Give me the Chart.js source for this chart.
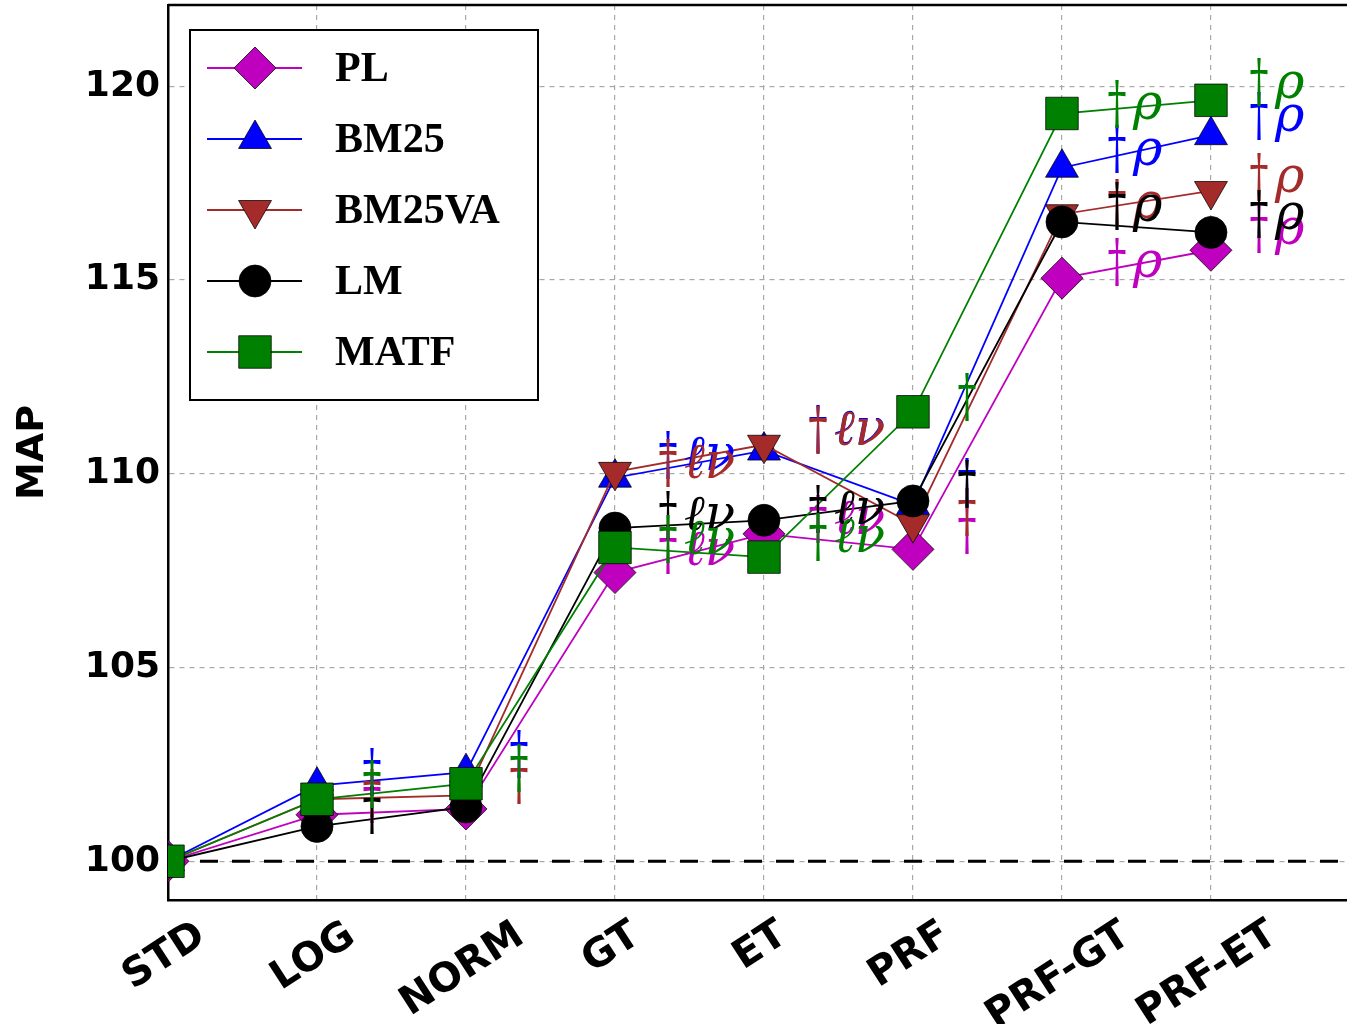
<!DOCTYPE html>
<html>
<head>
<meta charset="utf-8">
<script src="https://cdn.jsdelivr.net/npm/chart.js@4.4.1/dist/chart.umd.min.js"></script>
<style>
  html, body { margin: 0; padding: 0; background: #fff; }
</style>
</head>
<body>
<canvas id="mapChart" width="1347" height="1024"></canvas>
<script>
// categories and ticks
const categories = ["STD", "LOG", "NORM", "GT", "ET", "PRF", "PRF-GT", "PRF-ET"];
const xTicks = [0, 1, 2, 3, 4, 5, 6, 7];
const yTicks = [100, 105, 110, 115, 120];
const baseline = 100;

// MAP per method
const plValues     = [100, 101.2, 101.35, 107.45, 108.45, 108.05, 115.05, 115.77];
const bm25Values   = [100, 101.95, 102.3, 109.9, 110.6, 109.2, 117.9, 118.74];
const bm25vaValues = [100, 101.6, 101.7, 110.05, 110.75, 108.7, 116.7, 117.3];
const lmValues     = [100, 100.9, 101.4, 108.6, 108.8, 109.3, 116.5, 116.23];
const matfValues   = [100, 101.6, 102.0, 108.1, 107.85, 111.6, 119.3, 119.64];

// significance marks: [x position, MAP value, suffix]
const plMarks     = [[1.37, 101.78, ""], [3.356, 108.21, "ℓν"], [4.362, 109.01, "ℓν"], [5.362, 108.72, ""], [6.369, 115.64, "ρ"], [7.322, 116.49, "ρ"]];
const bm25Marks   = [[1.37, 102.48, ""], [2.356, 102.94, ""], [3.356, 110.66, "ℓν"], [4.362, 111.33, "ℓν"], [5.362, 109.96, ""], [6.369, 118.55, "ρ"], [7.322, 119.41, "ρ"]];
const bm25vaMarks = [[1.37, 101.94, ""], [2.356, 102.27, ""], [3.356, 110.45, "ℓν"], [4.362, 111.30, "ℓν"], [5.362, 109.19, ""], [6.369, 117.16, "ρ"], [7.322, 117.83, "ρ"]];
const lmMarks     = [[1.37, 101.50, ""], [3.356, 109.11, "ℓν"], [4.362, 109.26, "ℓν"], [5.362, 109.91, ""], [6.369, 117.08, "ρ"], [7.322, 116.88, "ρ"]];
const matfMarks   = [[1.37, 102.17, ""], [2.356, 102.58, ""], [3.356, 108.49, "ℓν"], [4.362, 108.54, "ℓν"], [5.362, 112.15, ""], [6.369, 119.72, "ρ"], [7.322, 120.28, "ρ"]];

const seriesNames = ["PL", "BM25", "BM25VA", "LM", "MATF"];
const seriesValues = [plValues, bm25Values, bm25vaValues, lmValues, matfValues];
const seriesMarks = [plMarks, bm25Marks, bm25vaMarks, lmMarks, matfMarks];
const seriesColors = ["#bf00bf", "#0000ff", "#a52a2a", "#000000", "#008000"];
const pointStyles = ["rectRot", "triangle", "triangle", "circle", "rect"];
const pointRotations = [0, 0, 180, 0, 0];
const pointSizes = [21, 19, 19, 16, 23];

const datasets = seriesNames.map((name, i) => ({
  label: name,
  data: seriesValues[i].map((v, j) => ({ x: xTicks[j], y: v })),
  borderColor: seriesColors[i],
  backgroundColor: seriesColors[i],
  borderWidth: 1.8,
  pointStyle: pointStyles[i],
  pointRotation: pointRotations[i],
  pointRadius: pointSizes[i],
  pointHoverRadius: pointSizes[i],
  pointBorderColor: "rgba(0,0,0,0.75)",
  pointBorderWidth: 1,
  order: seriesNames.length - i, // last series on top
}));

// dashed reference line at 100
const baselinePlugin = {
  id: "baseline",
  beforeDatasetsDraw(chart) {
    const { ctx, chartArea, scales } = chart;
    const py = scales.y.getPixelForValue(baseline);
    ctx.save();
    ctx.strokeStyle = "#000";
    ctx.lineWidth = 3;
    ctx.setLineDash([18, 14]);
    ctx.lineDashOffset = -32;
    ctx.beginPath();
    ctx.moveTo(chartArea.left, py);
    ctx.lineTo(chartArea.right, py);
    ctx.stroke();
    ctx.restore();
  },
};

// dagger + letter marks next to the lines
const marksPlugin = {
  id: "sigMarks",
  afterDatasetsDraw(chart) {
    const { ctx, scales } = chart;
    ctx.save();
    seriesMarks.forEach((marks, i) => {
      ctx.fillStyle = seriesColors[i];
      marks.forEach(([mx, my, suffix]) => {
        const px = scales.x.getPixelForValue(mx);
        const py = scales.y.getPixelForValue(my);
        // tall thin dagger, crossbar on the value
        ctx.save();
        ctx.translate(px, py);
        ctx.scale(0.95, 1.45);
        ctx.font = '40px "DejaVu Serif"';
        ctx.textAlign = "center";
        ctx.textBaseline = "alphabetic";
        ctx.fillText("\u2020", 0, 17);
        ctx.restore();
        if (suffix) {
          ctx.font = 'italic 50px "DejaVu Serif"';
          ctx.textAlign = "left";
          ctx.textBaseline = "alphabetic";
          ctx.fillText(suffix, px + 16, py + 22);
        }
      });
    });
    ctx.restore();
  },
};

// category labels, rotated and centred under each tick
const xLabelPlugin = {
  id: "xLabels",
  afterDraw(chart) {
    const { ctx, chartArea, scales } = chart;
    const angle = 33 * Math.PI / 180;
    ctx.save();
    ctx.fillStyle = "#000";
    ctx.font = 'bold 40px "DejaVu Sans"';
    ctx.textAlign = "center";
    ctx.textBaseline = "middle";
    categories.forEach((label, j) => {
      const m = ctx.measureText(label);
      const h = m.actualBoundingBoxAscent + m.actualBoundingBoxDescent;
      const boxH = m.width * Math.sin(angle) + h * Math.cos(angle);
      const cx = scales.x.getPixelForValue(xTicks[j]) - 6;
      const cy = chartArea.bottom + 15 + boxH / 2;
      ctx.save();
      ctx.translate(cx, cy);
      ctx.rotate(-angle);
      ctx.fillText(label, 0, (m.actualBoundingBoxAscent - m.actualBoundingBoxDescent) / 2);
      ctx.restore();
    });
    ctx.restore();
  },
};

// frame top + legend box drawn inside the plot
const legendPlugin = {
  id: "boxLegend",
  afterDraw(chart) {
    const { ctx, chartArea } = chart;
    ctx.save();
    ctx.strokeStyle = "#000";
    ctx.lineWidth = 2.5;
    ctx.beginPath();
    ctx.moveTo(chartArea.left, chartArea.top);
    ctx.lineTo(chartArea.right, chartArea.top);
    ctx.stroke();

    const bx = chartArea.left + 22, by = chartArea.top + 25;
    ctx.fillStyle = "#fff";
    ctx.fillRect(bx, by, 348, 370);
    ctx.lineWidth = 2;
    ctx.strokeRect(bx, by, 348, 370);

    seriesNames.forEach((name, i) => {
      const cy = by + 38 + i * 71;
      ctx.strokeStyle = seriesColors[i];
      ctx.lineWidth = 1.8;
      ctx.beginPath();
      ctx.moveTo(bx + 17, cy);
      ctx.lineTo(bx + 112, cy);
      ctx.stroke();
      ctx.fillStyle = seriesColors[i];
      ctx.strokeStyle = "rgba(0,0,0,0.75)";
      ctx.lineWidth = 1;
      Chart.helpers.drawPoint(ctx, {
        pointStyle: pointStyles[i],
        rotation: pointRotations[i],
        radius: pointSizes[i],
        borderWidth: 1,
      }, bx + 65, cy);
      ctx.fillStyle = "#000";
      ctx.font = 'bold 42px "Liberation Serif"';
      ctx.textAlign = "left";
      ctx.textBaseline = "middle";
      ctx.fillText(name, bx + 145, cy + 2);
    });
    ctx.restore();
  },
};

function noPadding(scale) {
  scale.paddingLeft = 0;
  scale.paddingRight = 0;
  scale.paddingTop = 0;
  scale.paddingBottom = 0;
}

const ctx = document.getElementById("mapChart").getContext("2d");
const mapChart = new Chart(ctx, {
  type: "line",
  data: { datasets },
  plugins: [baselinePlugin, marksPlugin, xLabelPlugin, legendPlugin],
  options: {
    responsive: false,
    animation: false,
    layout: { autoPadding: false, padding: { top: 5, right: 0, left: 0, bottom: 0 } },
    plugins: { legend: { display: false }, tooltip: { enabled: false } },
    scales: {
      x: {
        type: "linear",
        min: 0,
        max: 7.913,
        afterBuildTicks: (scale) => { scale.ticks = xTicks.map((v) => ({ value: v })); },
        afterFit: (scale) => { scale.height = 124; noPadding(scale); },
        grid: { color: "#a8a8a8", lineWidth: 1.2, drawTicks: false },
        border: { display: true, color: "#000", width: 2.5, dash: [5, 5] },
        ticks: { display: false },
      },
      y: {
        min: 99,
        max: 122.1,
        afterBuildTicks: (scale) => { scale.ticks = yTicks.map((v) => ({ value: v })); },
        afterFit: (scale) => { scale.width = 168; noPadding(scale); },
        grid: { color: "#a8a8a8", lineWidth: 1.2, drawTicks: false },
        border: { display: true, color: "#000", width: 2.5, dash: [5, 5] },
        ticks: {
          padding: 8,
          color: "#000",
          font: { family: "DejaVu Sans", size: 36, weight: "bold" },
        },
        title: {
          display: true,
          text: "MAP",
          color: "#000",
          padding: { top: 10, bottom: 0 },
          font: { family: "DejaVu Sans", size: 38, weight: "bold" },
        },
      },
    },
  },
});
</script>
</body>
</html>
